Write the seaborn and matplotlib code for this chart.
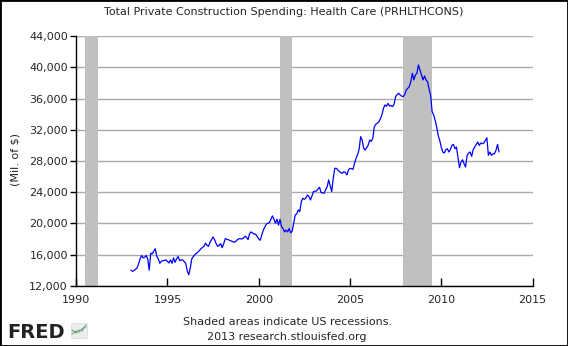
import matplotlib
matplotlib.use("Agg")
import matplotlib.pyplot as plt
from matplotlib.patches import Rectangle
from matplotlib.lines import Line2D
from matplotlib.ticker import FuncFormatter
import seaborn as sns
import pandas as pd

# ---- data (Mil. of $, monthly, Jan 1993 - Mar 2013) ----
start_year = 1993
v1993 = [14000, 13840, 13950, 14100, 14270, 14790, 15440, 15870, 15570, 15650, 15870, 15440]
v1994 = [14000, 16170, 16090, 16430, 16740, 15740, 15440, 14870, 15130, 15200, 15250, 15310]
v1995 = [15100, 14920, 15310, 14870, 15570, 15000, 15440, 15740, 15220, 15300, 15310, 15100]
v1996 = [14870, 13920, 13400, 14270, 15440, 15740, 16000, 16150, 16300, 16500, 16740, 16900]
v1997 = [17040, 17470, 17170, 17040, 17600, 17900, 18250, 17900, 17390, 17040, 17200, 17390]
v1998 = [16870, 17390, 18030, 17950, 17900, 17800, 17730, 17650, 17560, 17700, 17900, 18030]
v1999 = [18030, 17990, 18100, 18340, 18200, 17900, 18680, 18900, 18750, 18600, 18600, 18300]
v2000 = [18000, 17820, 18500, 19120, 19500, 19910, 20000, 20090, 20500, 20950, 20520, 20000]
v2001 = [20520, 19780, 20520, 19550, 19330, 18900, 19120, 18900, 19330, 18770, 19000, 20000]
v2002 = [21070, 21200, 21710, 21500, 22780, 23200, 23080, 23230, 23630, 23420, 22990, 23500]
v2003 = [24060, 24100, 24150, 24400, 24620, 23930, 23900, 23850, 24300, 24700, 25560, 24800]
v2004 = [24060, 25770, 27050, 27050, 26840, 26620, 26500, 26410, 26620, 26500, 26200, 26840]
v2005 = [27050, 27000, 26920, 27690, 28330, 28800, 29490, 31110, 30680, 29620, 29400, 29700]
v2006 = [30040, 30680, 30500, 30900, 32390, 32700, 32820, 33030, 33400, 33890, 34740, 35170]
v2007 = [35000, 35380, 35040, 35100, 34960, 35300, 36240, 36500, 36670, 36450, 36300, 36240]
v2008 = [36500, 37090, 37300, 37520, 38160, 39230, 38380, 39020, 39230, 40300, 39660, 39000]
v2009 = [38380, 38890, 38380, 38160, 37200, 36450, 34320, 33890, 33200, 32340, 31270, 30630]
v2010 = [29780, 29140, 29010, 29440, 29560, 29140, 29440, 29990, 30120, 29560, 29780, 28500]
v2011 = [27130, 27850, 28150, 27640, 27210, 28710, 29010, 29140, 28580, 29440, 29780, 30120]
v2012 = [30420, 29990, 30290, 30200, 30290, 30630, 30970, 28710, 29140, 28710, 28920, 28920]
v2013 = [29350, 30120, 29140]

recession_starts = [1990.5, 2001.167, 2007.917]
recession_ends = [1991.167, 2001.833, 2009.5]

title = "Total Private Construction Spending: Health Care (PRHLTHCONS)"
y_label = "(Mil. of $)"
x_ticks = [1990, 1995, 2000, 2005, 2010, 2015]
y_ticks = [12000, 16000, 20000, 24000, 28000, 32000, 36000, 40000, 44000]
footer1 = "Shaded areas indicate US recessions."
footer2 = "2013 research.stlouisfed.org"

values = (v1993 + v1994 + v1995 + v1996 + v1997 + v1998 + v1999 + v2000 + v2001 +
          v2002 + v2003 + v2004 + v2005 + v2006 + v2007 + v2008 + v2009 + v2010 +
          v2011 + v2012 + v2013)
dates = [start_year + i / 12.0 for i in range(len(values))]
df = pd.DataFrame({"date": dates, "value": values})

# ---- style ----
sns.set_style("white")
plt.rcParams["font.family"] = ["DejaVu Sans"]

fig = plt.figure(figsize=(5.68, 3.46), dpi=100)
fig.patch.set_facecolor("white")
ax = fig.add_axes([76.2 / 568, (346 - 285.7) / 346, (532.5 - 76.2) / 568, (285.7 - 36.1) / 346])
ax.set_facecolor("white")

for s, e in zip(recession_starts, recession_ends):
    ax.axvspan(s, e, color="#c0c0c0", lw=0, zorder=1)

sns.lineplot(data=df, x="date", y="value", ax=ax, color="#0000ff", lw=0.9, zorder=3)

ax.set_xlim(x_ticks[0], x_ticks[-1])
ax.set_ylim(y_ticks[0], y_ticks[-1])
ax.set_xticks(x_ticks)
ax.set_yticks(y_ticks)
ax.yaxis.set_major_formatter(FuncFormatter(lambda v, p: f"{int(v):,}"))
ax.set_xlabel("")
ax.set_ylabel("")

ax.set_axisbelow(True)
ax.yaxis.grid(True, color="#aaaaaa", lw=1.0)
ax.xaxis.grid(False)

for side in ["top", "right"]:
    ax.spines[side].set_visible(False)
for side in ["left", "bottom"]:
    ax.spines[side].set_color("black")
    ax.spines[side].set_linewidth(1.0)
    ax.spines[side].set_zorder(5)

ax.tick_params(axis="y", direction="out", length=4, width=1, color="black",
               labelsize=8, pad=2, left=True)
ax.tick_params(axis="x", direction="in", length=6, width=1, color="black",
               labelsize=8, pad=7, bottom=True)

fig.text(0.5, (346 - 12) / 346, title, ha="center", va="center", fontsize=8)
fig.text(15 / 568, (346 - 160) / 346, y_label, ha="center", va="center",
         rotation=90, fontsize=8)
fig.text(288 / 568, (346 - 322) / 346, footer1, ha="center", va="center", fontsize=8)
fig.text(287 / 568, (346 - 337) / 346, footer2, ha="center", va="center", fontsize=8)

# FRED logo
W, H = 568.0, 346.0
fig.text(7 / W, (H - 338) / H, "FRED", ha="left", va="baseline",
         fontsize=14, fontweight="bold", color="#222222")
fig.add_artist(Rectangle((71 / W, (H - 338) / H), 16 / W, 15 / H,
                         transform=fig.transFigure, facecolor="#ededed",
                         edgecolor="#d8d8d8", lw=0.5))
fig.add_artist(Line2D([72 / W, 76 / W, 79 / W, 82 / W, 86 / W],
                      [(H - 330) / H, (H - 333) / H, (H - 330) / H, (H - 331) / H, (H - 325) / H],
                      transform=fig.transFigure, color="#5a8ad8", lw=0.8))
fig.add_artist(Line2D([72 / W, 76 / W, 79 / W, 83 / W, 86 / W],
                      [(H - 334) / H, (H - 331) / H, (H - 332) / H, (H - 328) / H, (H - 327) / H],
                      transform=fig.transFigure, color="#7ab648", lw=0.8))

# outer frame
fig.add_artist(Rectangle((0, 0), 1, 1, transform=fig.transFigure, fill=False,
                         edgecolor="black", lw=2))

fig.savefig("out.png", dpi=100, facecolor="white")
